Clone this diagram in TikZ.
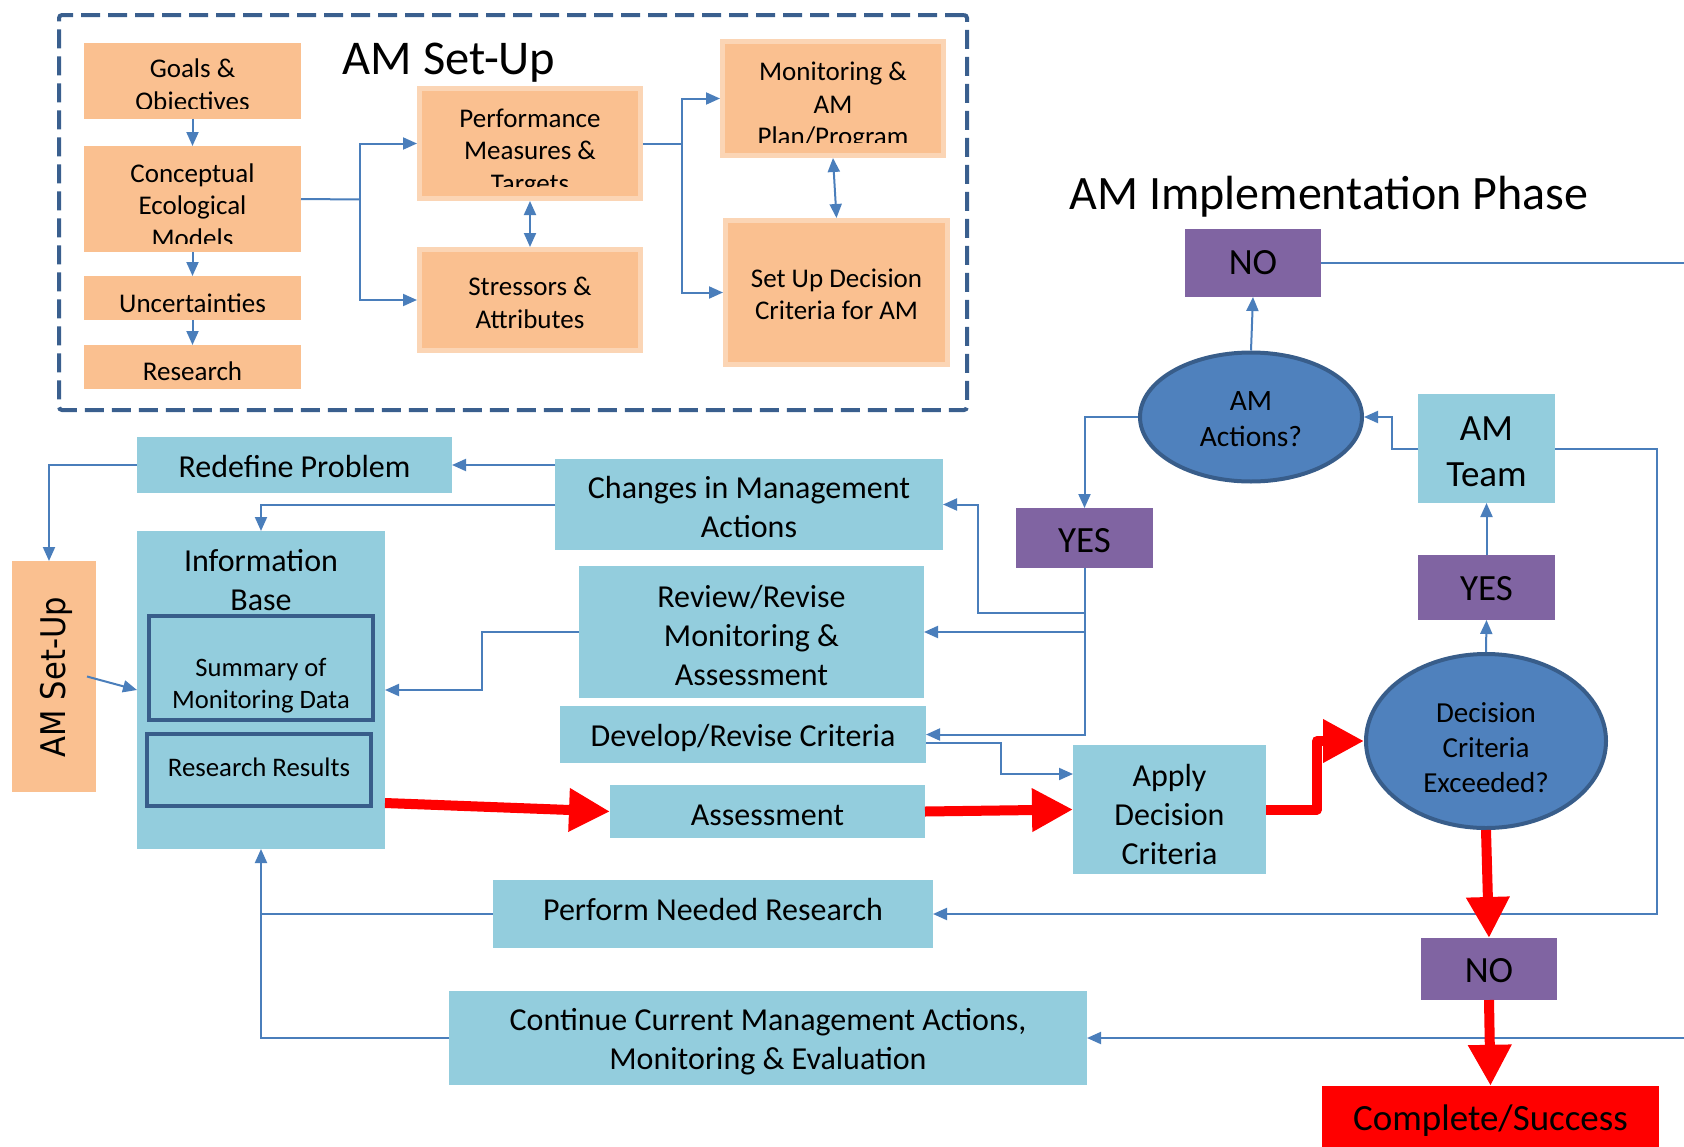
\documentclass[tikz,border=0pt]{standalone}
\usepackage{fontspec}
\setmainfont{Carlito}
\newfontfamily\dejavu{DejaVu Sans}
\usetikzlibrary{arrows.meta,shapes.geometric}
\definecolor{orfill}{RGB}{250,192,144}
\definecolor{orline}{RGB}{251,213,181}
\definecolor{ltblue}{RGB}{147,205,221}
\definecolor{purp}{RGB}{128,100,162}
\definecolor{ellfill}{RGB}{79,129,189}
\definecolor{ellline}{RGB}{56,93,138}
\definecolor{conncol}{RGB}{74,126,187}
\definecolor{framecol}{RGB}{58,95,142}
\tikzset{
  fsz/.style 2 args={font=\fontsize{#1}{#2}\selectfont},
  txt/.style={inner sep=0pt, align=center, text=black},
  otxt/.style={txt, fsz={27}{32.5}},
  btxt/.style={txt, fsz={32}{39}},
  ptxt/.style={txt, fsz={37}{44}},
  obox/.style={rectangle, fill=orfill, inner sep=0pt, outer sep=0pt},
  obox2/.style={rectangle, fill=orfill, draw=orline, line width=5pt, inner sep=0pt},
  bbox/.style={rectangle, fill=ltblue, inner sep=0pt, outer sep=0pt},
  pbox/.style={rectangle, fill=purp, inner sep=0pt, outer sep=0pt},
  ibox/.style={rectangle, fill=ltblue, draw=ellline, line width=4pt, inner sep=0pt},
  ell/.style={ellipse, fill=ellfill, draw=ellline, line width=4pt, inner sep=0pt},
  conn/.style={draw=conncol, line width=2pt, -{Triangle[length=14pt,width=12pt]}},
  conntwo/.style={draw=conncol, line width=2pt, {Triangle[length=14pt,width=12pt]}-{Triangle[length=14pt,width=12pt]}},
  plainline/.style={draw=conncol, line width=2pt},
  redarr/.style={draw=red, line width=10pt, line join=round, -{Triangle[length=41pt,width=41pt]}},
  frame/.style={rectangle, draw=framecol, line width=4pt, dash pattern=on 19pt off 8pt, rounded corners=3pt, inner sep=0pt},
}
\begin{document}
\begin{tikzpicture}[x=1pt,y=-1pt]
\useasboundingbox (0,0) rectangle (1684,1146);

% ---------- AM Set-Up frame ----------
\node[frame, minimum width=908pt, minimum height=395pt] (setupframe) at (513,212.5) {};
\node[txt, fsz={48.5}{58}] (title1) at (449,63) {AM Set-Up};

\node[obox, minimum width=217pt, minimum height=76pt] (goals) at (192.5,80.5) {};
\node[obox, minimum width=217pt, minimum height=106pt] (concept) at (192.5,199) {};
\node[obox, minimum width=217pt, minimum height=44pt] (uncert) at (192.5,298) {};
\node[otxt] (uncertT) at ([yshift=-5.5pt]uncert.center) {Uncertainties};
\node[obox, minimum width=217pt, minimum height=44pt] (research) at (192.5,367) {};
\node[otxt] (researchT) at ([yshift=-4pt]research.center) {Research};
\node[obox2, minimum width=221pt, minimum height=110pt] (perf) at (530,143.5) {};
\node[obox2, minimum width=221pt, minimum height=101pt] (stress) at (530,300) {};
\node[otxt] (stressT) at ([yshift=-3pt]stress.center) {Stressors \&\\Attributes};
\node[obox2, minimum width=221pt, minimum height=114pt] (monit) at (833,98.5) {};
\node[obox2, minimum width=222pt, minimum height=144pt] (setup) at (836.5,292.5) {};
\node[otxt] (setupT) at ([yshift=-2pt]setup.center) {Set Up Decision\\Criteria for AM};

\begin{scope}
\clip (84,43) rectangle (301,108);
\node[otxt] (goalsT) at (192.5,87) {Goals \&\\Objectives};
\end{scope}
\begin{scope}
\clip (84,147) rectangle (301,243);
\node[otxt] (conceptT) at (192.5,205.5) {Conceptual\\Ecological\\Models};
\end{scope}
\begin{scope}
\clip (417,86) rectangle (643,186);
\node[otxt] (perfT) at (530,153) {Performance\\Measures \&\\Targets};
\end{scope}
\begin{scope}
\clip (720,39) rectangle (946,142);
\node[otxt] (monitT) at (833,106.5) {Monitoring \&\\AM\\Plan/Program};
\end{scope}

\draw[conn] (goals.south) -- (concept.north);
\draw[conn] (concept.south) -- (uncert.north);
\draw[conn] (uncert.south) -- (research.north);
\coordinate (jA) at (360,199.5);
\draw[plainline] (concept.east) -- (jA);
\draw[conn] (jA) |- (perf.west);
\draw[conn] (jA) |- (stress.west);
\draw[conntwo] (perf.south) -- (stress.north);
\coordinate (jB) at (682,143.5);
\draw[plainline] (perf.east) -- (jB);
\draw[conn] (jB) |- (monit.west);
\draw[conn] (jB) |- (setup.west);
\draw[conntwo] (monit.south) -- (setup.north);

% ---------- Implementation phase ----------
\node[txt, fsz={48}{58}] (title2) at (1329,197) {AM Implementation Phase};
\node[pbox, minimum width=136pt, minimum height=68pt] (notop) at (1253,263) {};
\node[ptxt] (notopT) at (notop.center) {NO};
\node[ell, minimum width=222pt, minimum height=129pt] (amact) at (1251,417) {};
\node[txt, fsz={29.5}{36.5}] (amactT) at ([yshift=-2pt]amact.center) {AM\\Actions?};
\node[bbox, minimum width=137pt, minimum height=109pt] (amteam) at (1486.5,448.5) {};
\node[txt, fsz={37}{46}] (amteamT) at ([yshift=-3pt]amteam.center) {AM\\Team};
\node[pbox, minimum width=137pt, minimum height=60pt] (yesL) at (1084.5,538) {};
\node[ptxt] (yesLT) at ([yshift=-3pt]yesL.center) {YES};
\node[pbox, minimum width=137pt, minimum height=65pt] (yesR) at (1486.5,587.5) {};
\node[ptxt] (yesRT) at ([yshift=-1pt]yesR.center) {YES};
\node[ell, minimum width=240pt, minimum height=174pt] (decision) at (1486,741) {};
\node[txt, fsz={29}{35}] (decisionT) at ([yshift=-6.5pt]decision.center) {Decision\\Criteria\\Exceeded?};
\node[pbox, minimum width=136pt, minimum height=62pt] (nobot) at (1489,969) {};
\node[ptxt] (nobotT) at ([yshift=-2pt]nobot.center) {NO};
\node[rectangle, fill=red, inner sep=0pt, minimum width=337pt, minimum height=68pt] (complete) at (1490.5,1120) {};
\node[ptxt] (completeT) at ([yshift=-1pt]complete.center) {Complete/Success};

\node[bbox, minimum width=315pt, minimum height=56pt] (redefine) at (294.5,465) {};
\node[btxt] (redefineT) at ([yshift=-1pt]redefine.center) {Redefine Problem};
\node[bbox, minimum width=388pt, minimum height=91pt] (changes) at (749,504.5) {};
\node[btxt] (changesT) at ([yshift=-3pt]changes.center) {Changes in Management\\Actions};
\node[bbox, minimum width=248pt, minimum height=318pt] (info) at (261,690) {};
\node[txt, fsz={32}{39}] (infoT) at (261,580) {Information\\Base};
\node[ibox, minimum width=224pt, minimum height=104pt] (summary) at (261,668) {};
\node[txt, fsz={26.6}{32}] (summaryT) at (261,686) {Summary of\\Monitoring Data};
\node[ibox, minimum width=224pt, minimum height=72pt] (results) at (259,770) {};
\node[txt, fsz={26.8}{32}] (resultsT) at (259,767) {Research Results};
\node[obox, minimum width=84pt, minimum height=231pt] (amsetup) at (54,676.5) {};
\node[txt, rotate=90, font=\dejavu\fontsize{34}{40}\selectfont] (amsetupT) at (56,677) {\scalebox{0.9}[1]{AM Set-Up}};
\node[bbox, minimum width=345pt, minimum height=132pt] (review) at (751.5,632) {};
\node[btxt] (reviewT) at ([yshift=-3pt]review.center) {Review/Revise\\Monitoring \&\\Assessment};
\node[bbox, minimum width=366pt, minimum height=57pt] (develop) at (743,734.5) {};
\node[btxt] (developT) at ([yshift=-3pt]develop.center) {Develop/Revise Criteria};
\node[bbox, minimum width=315pt, minimum height=53pt] (assess) at (767.5,811.5) {};
\node[btxt] (assessT) at ([yshift=-4pt]assess.center) {Assessment};
\node[bbox, minimum width=193pt, minimum height=129pt] (apply) at (1169.5,809.5) {};
\node[btxt] (applyT) at ([yshift=-5pt]apply.center) {Apply\\Decision\\Criteria};
\node[bbox, minimum width=440pt, minimum height=68pt] (perform) at (713,914) {};
\node[btxt] (performT) at ([yshift=5pt]perform.center) {Perform Needed Research};
\node[bbox, minimum width=638pt, minimum height=94pt] (continue) at (768,1038) {};
\node[btxt] (continueT) at ([yshift=-4pt]continue.center) {Continue Current Management Actions,\\Monitoring \& Evaluation};

% blue connectors
\draw[conn] (amact.north) -- (notop.south);
\coordinate (edgeA) at (1690,263);
\draw[plainline] (notop.east) -- (edgeA);
\draw[conn] (amact.west) -| (yesL.north);
\draw[conn] (amteam.west) -- ++(-26,0) |- (amact.east);
\draw[conn] (amteam.east) -- ++(102,0) |- (perform.east);
\draw[conn] (yesR.north) -- (amteam.south);
\draw[conn] (decision.north) -- (yesR.south);
\draw[conn] (yesL.south) |- (develop.east);
\draw[conn] (yesL.south |- review.east) -- (review.east);
\coordinate (jC) at (1084.5,613);
\draw[conn] (jC) -| (978,504.5) -- (changes.east);
\draw[conn] ([yshift=-8.5pt]develop.east) -| (1001,774) -- ([yshift=35.5pt]apply.west);
\draw[conn] (changes.west |- redefine.east) -- (redefine.east);
\draw[conn] (changes.west) -| (info.north);
\draw[conn] (redefine.west) -| ([xshift=-5pt]amsetup.north);
\draw[conn] ([xshift=-9pt]amsetup.east) -- (info.west);
\draw[conn] (review.west) -- ++(-97,0) |- (info.east);
\draw[conn] (perform.west) -| (info.south);
\coordinate (jD) at (info.south |- perform.west);
\draw[plainline] (continue.west) -| (jD);
\coordinate (edgeB) at (1690,1038);
\draw[conn] (edgeB) -- (continue.east);

% red flow
\draw[redarr] ([yshift=-113pt]info.east) -- (assess.west);
\draw[redarr] (assess.east) -- (apply.west);
\draw[redarr] (apply.east) -- ++(51,0) |- (decision.west);
\draw[redarr] (decision.south) -- (nobot.north);
\draw[redarr] (nobot.south) -- (complete.north);
\end{tikzpicture}
\end{document}
